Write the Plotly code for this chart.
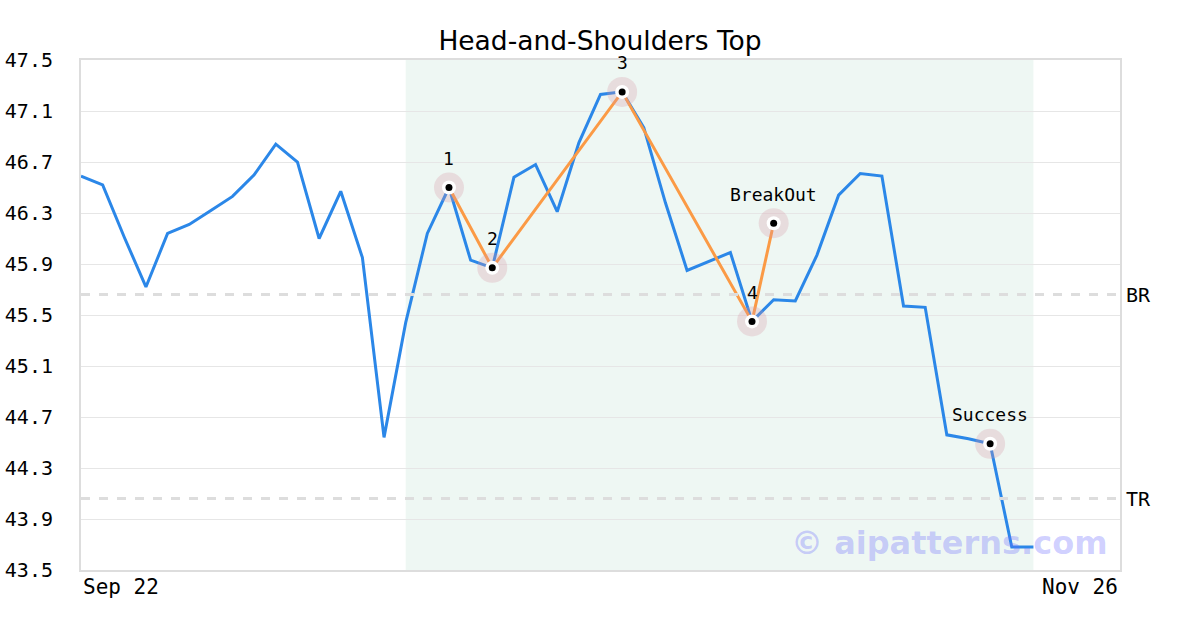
import plotly.graph_objects as go

# closing prices, one per trading day starting Sep 22
prices = [46.59, 46.52, 46.11, 45.72, 46.14, 46.21, 46.32, 46.43, 46.60, 46.84,
          46.70, 46.10, 46.47, 45.95, 44.54, 45.44, 46.14, 46.50, 45.93, 45.87,
          46.58, 46.68, 46.31, 46.85, 47.23, 47.25, 46.97, 46.38, 45.85, 45.92,
          45.99, 45.45, 45.62, 45.61, 45.97, 46.44, 46.61, 46.59, 45.57, 45.56,
          44.56, 44.53, 44.49, 43.68, 43.68]
days = list(range(len(prices)))

# pattern pivots (index, value, label)
pivot_idx = [17, 19, 25, 31, 32]
pivot_val = [46.50, 45.87, 47.25, 45.45, 46.22]
pivot_lbl = ["1", "2", "3", "4", "BreakOut"]

success_idx = 42
success_val = 44.49

br_level = 45.66
tr_level = 44.06

pattern_start = 15
pattern_end = 44

x_tick_pos = [0, 48]
x_tick_lbl = ["Sep 22", "Nov 26"]
y_ticks = [43.5, 43.9, 44.3, 44.7, 45.1, 45.5, 45.9, 46.3, 46.7, 47.1, 47.5]

mono = "DejaVu Sans Mono"

fig = go.Figure()

# pattern window shading
fig.add_vrect(x0=pattern_start, x1=pattern_end, fillcolor="#eef7f3",
              line_width=0, layer="below")

# support / resistance levels
for lvl in (br_level, tr_level):
    fig.add_hline(y=lvl, line_dash="dash", line_color="#dddddd", line_width=3)

fig.add_trace(go.Scatter(x=days, y=prices, mode="lines",
                         line=dict(color="#2b87e8", width=3), hoverinfo="skip"))

fig.add_trace(go.Scatter(x=pivot_idx, y=pivot_val, mode="lines",
                         line=dict(color="#fb9a45", width=3), hoverinfo="skip"))

mx = pivot_idx + [success_idx]
my = pivot_val + [success_val]
fig.add_trace(go.Scatter(x=mx, y=my, mode="markers",
                         marker=dict(size=30, color="rgba(215,150,165,0.28)"),
                         hoverinfo="skip"))
fig.add_trace(go.Scatter(x=mx, y=my, mode="markers",
                         marker=dict(size=14, color="white"), hoverinfo="skip"))
fig.add_trace(go.Scatter(x=mx, y=my, mode="markers",
                         marker=dict(size=7, color="black"), hoverinfo="skip"))

labels = pivot_lbl + ["Success"]
for xi, yi, t in zip(mx, my, labels):
    fig.add_annotation(x=xi, y=yi, text=t, showarrow=False, yshift=29,
                       font=dict(family=mono, size=18, color="black"))

# level labels on the right
for lvl, t in ((br_level, "BR"), (tr_level, "TR")):
    fig.add_annotation(x=1, xref="paper", y=lvl, text=t, showarrow=False,
                       xanchor="left", xshift=4,
                       font=dict(family=mono, size=20, color="black"))

# date labels at both ends
for xp, t, anc in zip(x_tick_pos, x_tick_lbl, ["left", "right"]):
    fig.add_annotation(x=xp, y=0, yref="paper", text=t, showarrow=False,
                       xanchor=anc, yanchor="top", yshift=-3,
                       font=dict(family=mono, size=21, color="black"))

fig.add_annotation(x=0.99, y=0.053, xref="paper", yref="paper",
                   text="<b>© aipatterns.com</b>", showarrow=False,
                   xanchor="right", yanchor="middle",
                   font=dict(family="DejaVu Sans", size=32,
                             color="rgba(110,110,255,0.33)"))

fig.update_layout(
    title=dict(text="Head-and-Shoulders Top", x=0.5, xanchor="center",
               y=0.936, yanchor="middle",
               font=dict(family="DejaVu Sans", size=26.5, color="black")),
    width=1200, height=630,
    margin=dict(l=81, r=80, t=60, b=60),
    plot_bgcolor="white", paper_bgcolor="white",
    showlegend=False,
)

fig.update_xaxes(range=[0, 48], showticklabels=False, showgrid=False,
                 zeroline=False, showline=True, linecolor="#dddddd",
                 linewidth=2, mirror=True, automargin=False)
fig.update_yaxes(range=[43.5, 47.5], tickvals=y_ticks,
                 ticktext=[f"{v:.1f}" for v in y_ticks],
                 showgrid=True, gridcolor="#e6e6e6", gridwidth=1,
                 zeroline=False, showline=True, linecolor="#dddddd",
                 linewidth=2, mirror=True, ticks="", ticklabelstandoff=22,
                 automargin=False,
                 tickfont=dict(family=mono, size=20, color="black"))

fig.write_html("out.html", config={"displayModeBar": False},
               post_script="document.body.style.margin='0';document.body.style.overflow='hidden';")
